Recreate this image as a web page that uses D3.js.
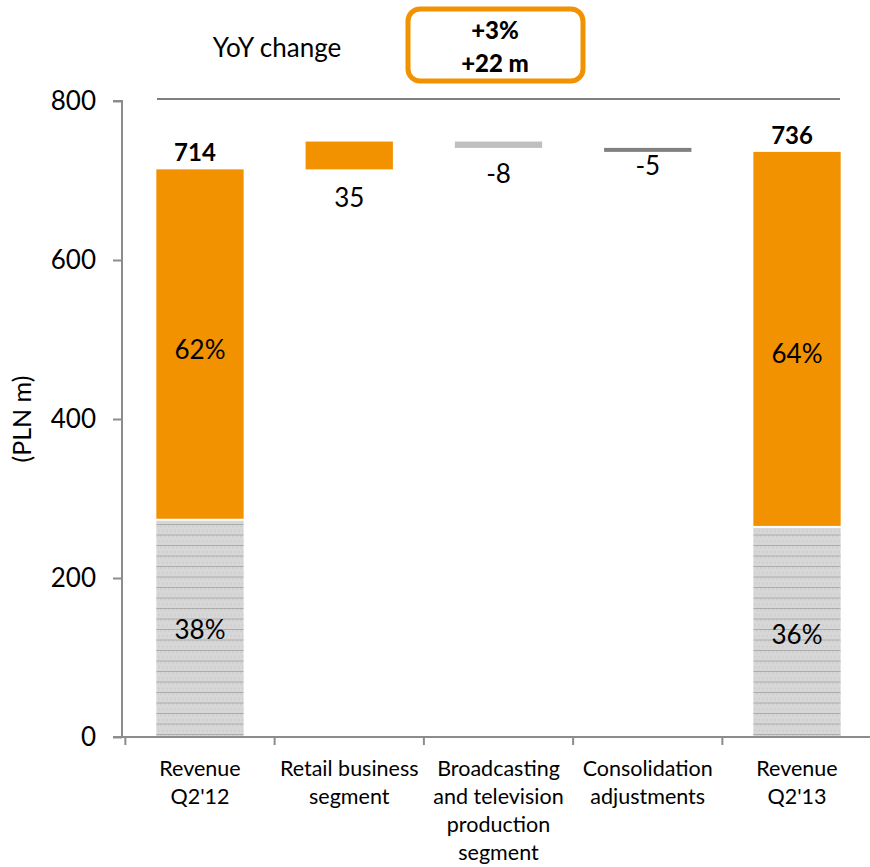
<!DOCTYPE html>
<html>
<head>
<meta charset="utf-8">
<script src="https://cdn.jsdelivr.net/npm/d3@7"></script>
<style>
  html, body { margin: 0; padding: 0; background: #fff; }
  svg { display: block; font-family: Lato, "Open Sans", sans-serif; }
</style>
</head>
<body>
<svg id="chart" width="870" height="867"></svg>
<script>
// Revenue bridge, PLN m
const categories = [
  ["Revenue", "Q2'12"],
  ["Retail business", "segment"],
  ["Broadcasting", "and television", "production", "segment"],
  ["Consolidation", "adjustments"],
  ["Revenue", "Q2'13"]
];
const totals = [714, null, null, null, 736];
const baseShare = [272, null, null, null, 263];      // grey lower part of totals
const baseShareLabels = ["38%", null, null, null, "36%"];
const topShareLabels = ["62%", null, null, null, "64%"];
const changes = [null, 35, -8, -5, null];
const changeColors = [null, "#F39200", "#BFBFBF", "#808080", null];
const yTicks = [0, 200, 400, 600, 800];
const yoyPct = "+3%";
const yoyAbs = "+22 m";

const orange = "#F39200";
const svg = d3.select("#chart");

const x = d3.scaleBand().domain(d3.range(categories.length)).range([122, 875]).paddingInner(0.415).paddingOuter(0.23);
const y = d3.scaleLinear().domain([0, 800]).range([737, 101]);

// hatched fill for the grey share
const defs = svg.append("defs");
const pat = defs.append("pattern").attr("id", "hatch").attr("patternUnits", "userSpaceOnUse")
  .attr("width", 4).attr("height", 10.5);
pat.append("rect").attr("width", 4).attr("height", 10.5).attr("fill", "#d7d7d7");
pat.append("rect").attr("x", 0).attr("y", 0).attr("width", 2).attr("height", 2).attr("fill", "#cfcfcf");
pat.append("rect").attr("x", 2).attr("y", 5).attr("width", 2).attr("height", 2).attr("fill", "#cfcfcf");
pat.append("rect").attr("x", 0).attr("y", 9.5).attr("width", 4).attr("height", 1).attr("fill", "#ababab");

// waterfall running levels
const levels = [];
let run = 0;
categories.forEach((c, i) => {
  if (totals[i] != null) { run = totals[i]; levels.push({ i, total: totals[i] }); }
  else { const from = run; run = run + changes[i]; levels.push({ i, from, to: run }); }
});

const bw = x.bandwidth();
const FS = 26;

// total bars
levels.filter(d => d.total != null).forEach(d => {
  const b = baseShare[d.i];
  const shift = d.i === 0 ? 5 : 14;
  svg.append("rect").attr("x", x(d.i)).attr("width", bw)
    .attr("y", y(b)).attr("height", y(0) - y(b)).attr("fill", "url(#hatch)");
  svg.append("rect").attr("x", x(d.i)).attr("width", bw)
    .attr("y", y(d.total)).attr("height", y(b) - y(d.total) - 2).attr("fill", orange);
  svg.append("text").attr("x", x(d.i) + bw / 2 - 5).attr("y", y(d.total) - 8)
    .attr("text-anchor", "middle").attr("font-size", 24).attr("font-weight", "bold").text(d.total);
  svg.append("text").attr("x", x(d.i) + bw / 2).attr("y", y((d.total + b) / 2) + 9 + shift)
    .attr("text-anchor", "middle").attr("font-size", FS).text(topShareLabels[d.i]);
  svg.append("text").attr("x", x(d.i) + bw / 2).attr("y", y(b / 2) + 10 + (d.i === 0 ? 0 : 2))
    .attr("text-anchor", "middle").attr("font-size", FS).text(baseShareLabels[d.i]);
});

// change bars; value labels sit under each step
const labelGap = { 1: 38, 2: 35, 3: 23 };
levels.filter(d => d.total == null).forEach(d => {
  const top = Math.max(d.from, d.to), bot = Math.min(d.from, d.to);
  svg.append("rect").attr("x", x(d.i)).attr("width", bw)
    .attr("y", y(top)).attr("height", y(bot) - y(top)).attr("fill", changeColors[d.i]);
  svg.append("text").attr("x", x(d.i) + bw / 2).attr("y", y(bot) + labelGap[d.i])
    .attr("text-anchor", "middle").attr("font-size", FS)
    .text(changes[d.i] > 0 ? changes[d.i] : "-" + Math.abs(changes[d.i]));
});

// y axis
const yAxis = svg.append("g").attr("transform", "translate(122,0)")
  .call(d3.axisLeft(y).tickValues(yTicks).tickSize(9).tickPadding(17));
yAxis.selectAll("text").attr("font-size", FS).attr("fill", "#000").attr("font-family", "Lato, sans-serif");
yAxis.selectAll("line, path").attr("stroke", "#8c8c8c").attr("stroke-width", 2);
yAxis.select("path").attr("d", `M-9,${y(0)}H0V${y(800)}H-9`);

// x axis baseline and category separators
const xAxisG = svg.append("g");
xAxisG.append("line").attr("x1", 113).attr("x2", 870).attr("y1", y(0)).attr("y2", y(0))
  .attr("stroke", "#8c8c8c").attr("stroke-width", 2);
const step = x.step();
d3.range(categories.length).forEach(i => {
  const bx = x(i) - (step - bw) / 2;
  xAxisG.append("line").attr("x1", bx).attr("x2", bx).attr("y1", y(0)).attr("y2", y(0) + 8)
    .attr("stroke", "#8c8c8c").attr("stroke-width", 2);
});

// category labels
categories.forEach((lines, i) => {
  const t = svg.append("text").attr("text-anchor", "middle").attr("font-size", 21.5)
    .attr("x", x(i) + bw / 2).attr("y", 776);
  lines.forEach((ln, k) => t.append("tspan").attr("x", x(i) + bw / 2).attr("dy", k === 0 ? 0 : 28).text(ln));
});

// axis title
svg.append("text").attr("transform", `translate(31,${y(400)}) rotate(-90)`)
  .attr("text-anchor", "middle").attr("font-size", 25).text("(PLN m)");

// YoY header
svg.append("line").attr("x1", 157).attr("x2", 840).attr("y1", 99).attr("y2", 99)
  .attr("stroke", "#000").attr("stroke-width", 1);
svg.append("text").attr("x", 277).attr("y", 57).attr("text-anchor", "middle")
  .attr("font-size", FS).text("YoY change");
svg.append("rect").attr("x", 408).attr("y", 9).attr("width", 175).attr("height", 72)
  .attr("rx", 12).attr("fill", "#fff").attr("stroke", orange).attr("stroke-width", 5);
svg.append("text").attr("x", 495).attr("y", 39).attr("text-anchor", "middle")
  .attr("font-size", 24).attr("font-weight", 900).text(yoyPct);
svg.append("text").attr("x", 495).attr("y", 72).attr("text-anchor", "middle")
  .attr("font-size", 24).attr("font-weight", 900).text(yoyAbs);
</script>
</body>
</html>
